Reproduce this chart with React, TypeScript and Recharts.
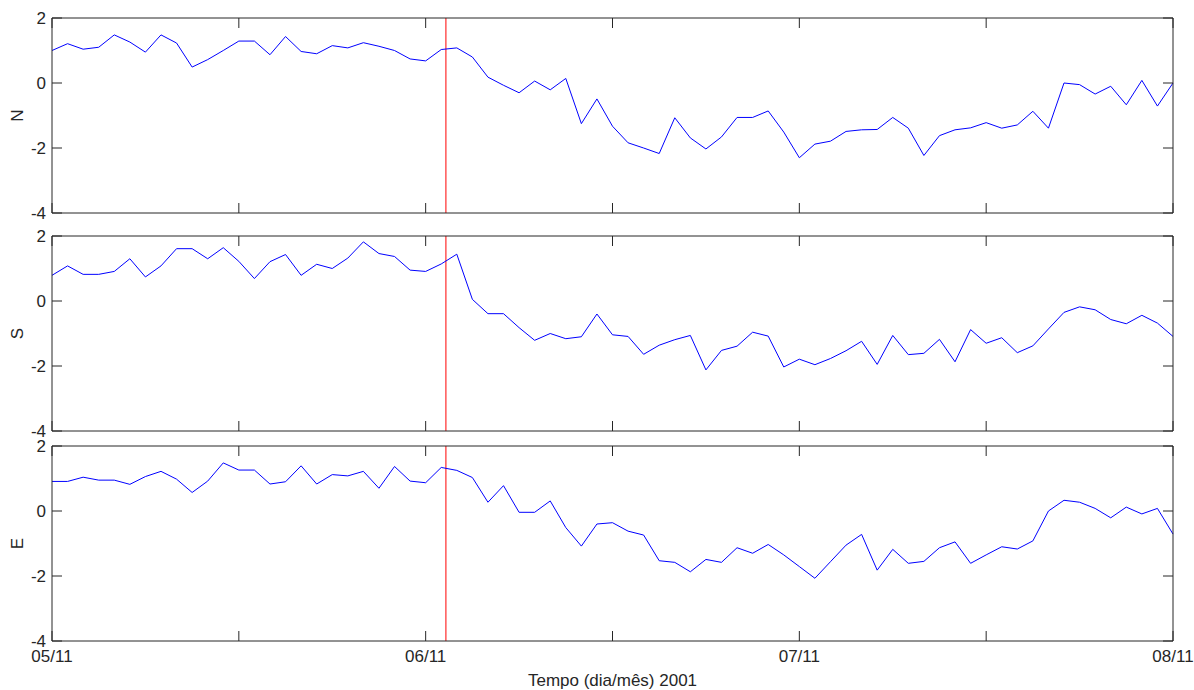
import React from "react";
import { LineChart, Line, XAxis, YAxis, ReferenceLine } from "recharts";

// time axis: hours since 05/11 00:00
const hours = [
  0, 1, 2, 3, 4, 5, 6, 7, 8, 9, 10, 11, 12, 13, 14, 15, 16, 17, 18, 19, 20, 21, 22, 23,
  24, 25, 26, 27, 28, 29, 30, 31, 32, 33, 34, 35, 36, 37, 38, 39, 40, 41, 42, 43, 44, 45, 46, 47,
  48, 49, 50, 51, 52, 53, 54, 55, 56, 57, 58, 59, 60, 61, 62, 63, 64, 65, 66, 67, 68, 69, 70, 71,
  72,
];

const nValues = [
  1.0, 1.21, 1.04, 1.1, 1.48, 1.26, 0.95, 1.48, 1.23, 0.49,
  0.72, 1.0, 1.29, 1.29, 0.87, 1.43, 0.97, 0.9, 1.15, 1.08,
  1.24, 1.13, 1.0, 0.74, 0.68, 1.03, 1.08, 0.8, 0.18, -0.07,
  -0.3, 0.06, -0.21, 0.14, -1.25, -0.49, -1.33, -1.84, -2.0, -2.17,
  -1.07, -1.69, -2.03, -1.66, -1.06, -1.06, -0.86, -1.51, -2.3, -1.88,
  -1.79, -1.49, -1.44, -1.43, -1.06, -1.39, -2.23, -1.62, -1.44, -1.38,
  -1.22, -1.39, -1.29, -0.87, -1.39, 0.0, -0.05, -0.34, -0.1, -0.67,
  0.08, -0.71, 0.0,
];

const sValues = [
  0.79, 1.08, 0.82, 0.82, 0.91, 1.3, 0.74, 1.08, 1.61, 1.61,
  1.3, 1.64, 1.22, 0.69, 1.21, 1.43, 0.79, 1.13, 1.0, 1.32,
  1.82, 1.46, 1.37, 0.95, 0.91, 1.14, 1.44, 0.05, -0.39, -0.39,
  -0.82, -1.21, -1.0, -1.16, -1.1, -0.4, -1.04, -1.09, -1.64, -1.36,
  -1.19, -1.06, -2.12, -1.52, -1.39, -0.96, -1.08, -2.03, -1.79, -1.96,
  -1.77, -1.53, -1.24, -1.95, -1.06, -1.65, -1.61, -1.18, -1.87, -0.88,
  -1.3, -1.13, -1.59, -1.38, -0.86, -0.35, -0.18, -0.27, -0.57, -0.7,
  -0.44, -0.68, -1.09,
];

const eValues = [
  0.91, 0.91, 1.04, 0.95, 0.95, 0.82, 1.06, 1.22, 0.98, 0.57,
  0.92, 1.48, 1.26, 1.26, 0.83, 0.9, 1.39, 0.83, 1.12, 1.08,
  1.22, 0.7, 1.37, 0.92, 0.87, 1.34, 1.25, 1.03, 0.27, 0.78,
  -0.04, -0.04, 0.31, -0.51, -1.08, -0.4, -0.36, -0.62, -0.74, -1.53,
  -1.58, -1.87, -1.49, -1.58, -1.13, -1.3, -1.03, -1.35, -1.71, -2.07,
  -1.56, -1.05, -0.72, -1.82, -1.18, -1.61, -1.55, -1.13, -0.95, -1.61,
  -1.35, -1.1, -1.17, -0.92, 0.0, 0.33, 0.27, 0.08, -0.21, 0.12,
  -0.09, 0.08, -0.71,
];

const xTicks = [0, 12, 24, 36, 48, 60, 72];
const dayTicks = [0, 24, 48, 72];
const dayLabels = ["05/11", "06/11", "07/11", "08/11"];
const yTicks = [-4, -2, 0, 2];
const eventHour = 25.3;

const rows = hours.map((h, i) => ({
  hour: h,
  n: nValues[i],
  s: sValues[i],
  e: eValues[i],
}));

const FONT = '"Liberation Sans Narrow", "Arial Narrow", "Liberation Sans", sans-serif';
const INK = "#262626";
const W = 1194;
const FS = 17;

const tickStyle = { fontSize: FS, fill: INK, fontFamily: FONT };
const blank = () => "";

// rotated panel name left of the y tick labels
const YTitle = (props: any) => {
  const { viewBox, value } = props;
  if (!viewBox) return null;
  const cx = viewBox.x + 17;
  const cy = viewBox.y + viewBox.height / 2;
  return (
    <text
      x={cx}
      y={cy}
      transform={`rotate(-90 ${cx} ${cy})`}
      textAnchor="middle"
      dominantBaseline="central"
      fontSize={FS}
      fontFamily={FONT}
      fill={INK}
    >
      {value}
    </text>
  );
};

interface PanelProps {
  dataKey: string;
  title: string;
  top: number;
  height: number;
  margin: { top: number; right: number; bottom: number; left: number };
  showDates?: boolean;
}

function Panel({ dataKey, title, top, height, margin, showDates }: PanelProps) {
  return (
    <div style={{ position: "absolute", left: 0, top }}>
      <LineChart width={W} height={height} data={rows} margin={margin}>
        <XAxis
          xAxisId="b"
          dataKey="hour"
          type="number"
          domain={[0, 72]}
          ticks={xTicks}
          interval={0}
          orientation="bottom"
          mirror
          tickFormatter={blank}
          tickSize={10}
          stroke={INK}
        />
        <XAxis
          xAxisId="t"
          dataKey="hour"
          type="number"
          domain={[0, 72]}
          ticks={xTicks}
          interval={0}
          orientation="top"
          mirror
          tickFormatter={blank}
          tickSize={10}
          stroke={INK}
        />
        {showDates && (
          <XAxis
            xAxisId="lab"
            dataKey="hour"
            type="number"
            domain={[0, 72]}
            ticks={dayTicks}
            interval={0}
            height={49}
            axisLine={false}
            tickLine={false}
            tickSize={4}
            tickMargin={5}
            tick={tickStyle}
            tickFormatter={(h: number) => dayLabels[dayTicks.indexOf(h)] ?? ""}
            label={{
              value: "Tempo (dia/mês) 2001",
              position: "insideBottom",
              offset: 4,
              style: { fontSize: FS, fill: INK, fontFamily: FONT },
            }}
          />
        )}
        <YAxis
          yAxisId="l"
          dataKey={dataKey}
          type="number"
          domain={[-4, 2]}
          allowDataOverflow
          ticks={yTicks}
          interval={0}
          mirror
          tickFormatter={blank}
          tickSize={10}
          stroke={INK}
        />
        <YAxis
          yAxisId="lab"
          dataKey={dataKey}
          type="number"
          domain={[-4, 2]}
          allowDataOverflow
          ticks={yTicks}
          interval={0}
          width={52}
          axisLine={false}
          tickLine={false}
          tickSize={4}
          tickMargin={2}
          tick={tickStyle}
          label={{ value: title, content: YTitle }}
        />
        <YAxis
          yAxisId="r"
          dataKey={dataKey}
          type="number"
          orientation="right"
          domain={[-4, 2]}
          allowDataOverflow
          ticks={yTicks}
          interval={0}
          mirror
          tickFormatter={blank}
          tickSize={10}
          stroke={INK}
        />
        <ReferenceLine xAxisId="b" yAxisId="l" x={eventHour} stroke="#ff0000" strokeWidth={1} />
        <Line
          xAxisId="b"
          yAxisId="l"
          type="linear"
          dataKey={dataKey}
          stroke="#0000ff"
          strokeWidth={1}
          dot={false}
          isAnimationActive={false}
        />
      </LineChart>
    </div>
  );
}

export default function App() {
  return (
    <div
      style={{
        position: "absolute",
        left: 0,
        top: 0,
        width: W,
        height: 690,
        background: "#fff",
        fontFamily: FONT,
      }}
    >
      <Panel dataKey="n" title="N" top={0} height={230} margin={{ top: 18, right: 21, bottom: 17, left: 0 }} />
      <Panel dataKey="s" title="S" top={222} height={222} margin={{ top: 14, right: 21, bottom: 13, left: 0 }} />
      <Panel
        dataKey="e"
        title="E"
        top={432}
        height={258}
        margin={{ top: 14, right: 21, bottom: 0, left: 0 }}
        showDates
      />
    </div>
  );
}
